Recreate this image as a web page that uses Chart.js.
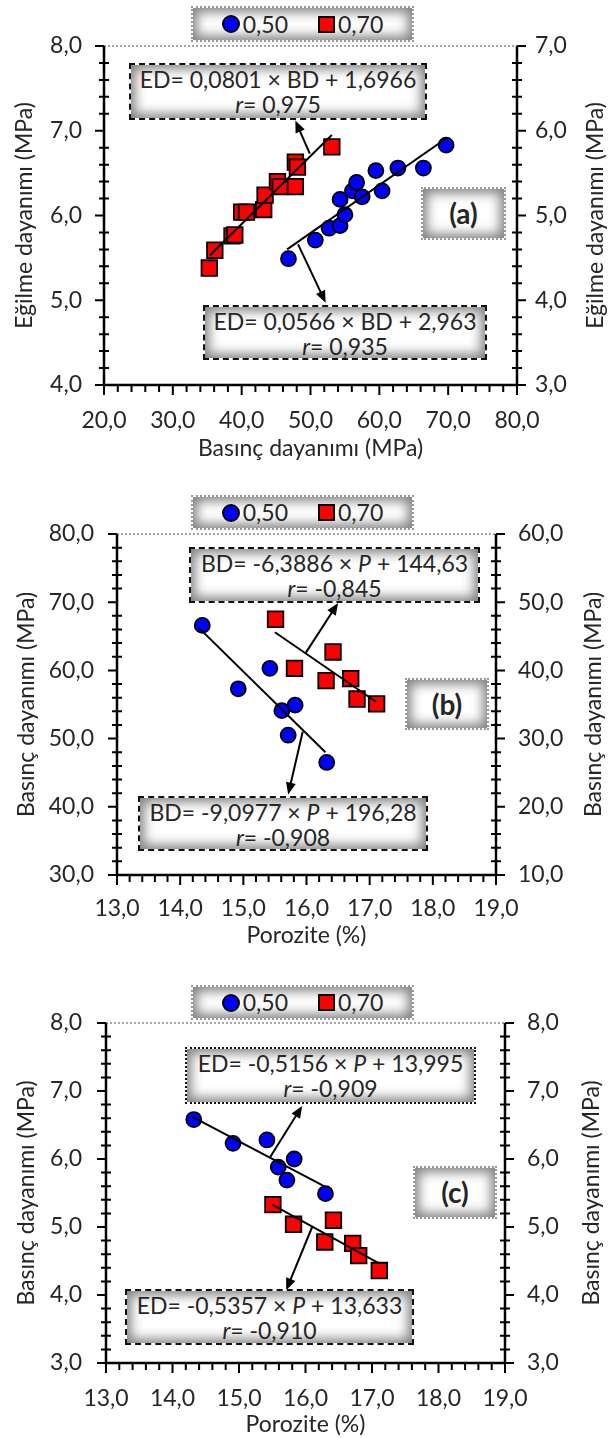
<!DOCTYPE html>
<html>
<head>
<meta charset="utf-8">
<script src="https://cdn.jsdelivr.net/npm/chart.js@4.4.1/dist/chart.umd.min.js"></script>
<style>
  body { margin: 0; background: #fff; width: 614px; height: 1438px; position: relative; overflow: hidden; font-family: Lato, "Open Sans", sans-serif; color: #262626; }
  canvas { position: absolute; left: 0; }
  .box { position: absolute; box-sizing: border-box; background: #fff; box-shadow: inset 0 0 12px 4px rgba(0,0,0,.5);
         text-align: center; font-size: 23px; line-height: 25px; white-space: nowrap; padding-top: 2px; }
  .dash { border: 2px dashed #111; }
  .dot { border: 2px dotted #999; }
  .dotk { border: 2px dotted #111; }
  .lbl { font-weight: bold; font-size: 28px; line-height: 48px; padding-top: 0; }
  .leg { display: flex; align-items: center; justify-content: center; padding-top: 0; font-size: 23px; }
  .mk { display: inline-block; box-sizing: border-box; border: 2px solid #000; margin-right: 3px; }
  .mk.c { width: 18px; height: 18px; border-radius: 50%; background: #0000ff; }
  .mk.s { width: 17px; height: 17px; background: #ff0000; margin-left: 30px; }
</style>
</head>
<body>
<canvas id="ca" width="614" height="470" style="top:0"></canvas>
<canvas id="cb" width="614" height="490" style="top:470px"></canvas>
<canvas id="cc" width="614" height="478" style="top:960px"></canvas>

<div class="box dot leg" style="left:191px;top:6px;width:223px;height:36px"><span class="mk c"></span>0,50<span class="mk s"></span>0,70</div>
<div class="box dash" style="left:129px;top:63px;width:298px;height:57px">ED= 0,0801 × BD + 1,6966<br><i>r</i>= 0,975</div>
<div class="box dot lbl" style="left:421px;top:187px;width:85px;height:53px">(a)</div>
<div class="box dash" style="left:203px;top:305px;width:284px;height:55px">ED= 0,0566 × BD + 2,963<br><i>r</i>= 0,935</div>

<div class="box dot leg" style="left:191px;top:495px;width:223px;height:35px"><span class="mk c"></span>0,50<span class="mk s"></span>0,70</div>
<div class="box dash" style="left:189px;top:547px;width:291px;height:56px">BD= -6,3886 × <i>P</i> + 144,63<br><i>r</i>= -0,845</div>
<div class="box dot lbl" style="left:405px;top:678px;width:84px;height:52px">(b)</div>
<div class="box dash" style="left:138px;top:796px;width:290px;height:55px">BD= -9,0977 × <i>P</i> + 196,28<br><i>r</i>= -0,908</div>

<div class="box dot leg" style="left:191px;top:985px;width:223px;height:35px"><span class="mk c"></span>0,50<span class="mk s"></span>0,70</div>
<div class="box dotk" style="left:185px;top:1047px;width:291px;height:57px">ED= -0,5156 × <i>P</i> + 13,995<br><i>r</i>= -0,909</div>
<div class="box dot lbl" style="left:413px;top:1166px;width:84px;height:53px">(c)</div>
<div class="box dash" style="left:125px;top:1289px;width:289px;height:56px">ED= -0,5357 × <i>P</i> + 13,633<br><i>r</i>= -0,910</div>

<script>
// (a) basınç vs eğilme dayanımı
const aBd50 = [46.8, 50.7, 52.7, 54.3, 55.0, 54.3, 56.1, 56.7, 57.5, 59.5, 60.4, 62.7, 66.4, 69.7];
const aEd50 = [5.49, 5.71, 5.85, 5.88, 6.01, 6.19, 6.29, 6.39, 6.22, 6.53, 6.29, 6.56, 6.56, 6.83];
const aBd70 = [35.3, 36.1, 38.6, 39.0, 40.0, 40.7, 43.2, 43.4, 45.2, 45.6, 47.8, 47.8, 48.1, 53.1];
const aEd70 = [4.38, 4.59, 4.76, 4.77, 5.04, 5.04, 5.07, 5.24, 5.40, 5.34, 5.34, 5.63, 5.57, 5.81];
const aFit50Bd = [46.6, 69.9], aFit50Ed = [5.60, 6.92];
const aFit70Bd = [35.4, 53.1], aFit70Ed = [4.53, 5.95];

// (b) porozite vs basınç dayanımı
const bP50 = [14.35, 15.42, 14.92, 15.61, 15.82, 15.71, 16.32];
const bBd50 = [66.6, 60.3, 57.3, 54.1, 54.9, 50.5, 46.5];
const bP70 = [15.51, 15.81, 16.42, 16.31, 16.70, 16.80, 17.11];
const bBd70 = [47.5, 40.3, 42.7, 38.5, 38.8, 35.8, 35.1];
const bFit50P = [14.3, 16.3], bFit50Bd = [66.2, 48.0];
const bFit70P = [15.5, 17.1], bFit70Bd = [45.6, 35.4];

// (c) porozite vs eğilme dayanımı
const cP50 = [14.32, 14.91, 15.42, 15.83, 15.59, 15.72, 16.30];
const cEd50 = [6.58, 6.23, 6.28, 6.00, 5.88, 5.69, 5.49];
const cP70 = [15.51, 15.82, 16.42, 16.29, 16.71, 16.80, 17.11];
const cEd70 = [5.33, 5.04, 5.10, 4.78, 4.76, 4.58, 4.36];
const cFit50P = [14.3, 16.3], cFit50Ed = [6.62, 5.59];
const cFit70P = [15.5, 17.1], cFit70Ed = [5.33, 4.47];

const FONT = 'Lato, "Open Sans", sans-serif';
const INK = '#262626';
const fmt1 = (v) => v.toFixed(1).replace('.', ',');
const pts = (xs, ys) => xs.map((v, i) => ({ x: v, y: ys[i] }));

function arrow(ctx, x1, y1, x2, y2) {
  const ang = Math.atan2(y2 - y1, x2 - x1), L = 12, W = 5;
  ctx.beginPath();
  ctx.moveTo(x1, y1);
  ctx.lineTo(x2 - Math.cos(ang) * L * 0.7, y2 - Math.sin(ang) * L * 0.7);
  ctx.stroke();
  ctx.beginPath();
  ctx.moveTo(x2, y2);
  ctx.lineTo(x2 - L * Math.cos(ang) + W * Math.sin(ang), y2 - L * Math.sin(ang) - W * Math.cos(ang));
  ctx.lineTo(x2 - L * Math.cos(ang) - W * Math.sin(ang), y2 - L * Math.sin(ang) + W * Math.cos(ang));
  ctx.closePath();
  ctx.fill();
}

// axes, minor ticks, right title and arrows
const decor = {
  id: 'decor',
  afterDatasetsDraw(chart, args, o) {
    const { ctx, chartArea: a, scales } = chart;
    const sx = scales.x, sy = scales.y;
    ctx.save();
    ctx.strokeStyle = '#a6a6a6';
    ctx.lineWidth = 2;
    ctx.setLineDash([2, 2]);
    ctx.beginPath(); ctx.moveTo(a.left, a.top); ctx.lineTo(a.right, a.top); ctx.stroke();
    ctx.setLineDash([]);

    ctx.strokeStyle = '#000';
    ctx.lineWidth = 2.5;
    ctx.beginPath();
    ctx.moveTo(a.left, a.top); ctx.lineTo(a.left, a.bottom + 1);
    ctx.moveTo(a.left - 1, a.bottom); ctx.lineTo(a.right + 1, a.bottom);
    ctx.moveTo(a.right, a.bottom + 1); ctx.lineTo(a.right, a.top);
    ctx.stroke();

    ctx.lineWidth = 2;
    const n = Math.round((sx.max - sx.min) / o.minorX), kx = Math.round(o.majorX / o.minorX);
    ctx.beginPath();
    for (let i = 0; i <= n; i++) {
      const px = sx.getPixelForValue(sx.min + i * o.minorX);
      ctx.moveTo(px, a.bottom);
      ctx.lineTo(px, a.bottom + (i % kx === 0 ? 10 : 7));
    }
    const m = Math.round((sy.max - sy.min) / o.minorY), ky = Math.round(o.majorY / o.minorY);
    for (let i = 0; i <= m; i++) {
      const py = sy.getPixelForValue(sy.min + i * o.minorY);
      if (i % ky === 0) {
        ctx.moveTo(a.left - 9, py); ctx.lineTo(a.left, py);
        ctx.moveTo(a.right, py); ctx.lineTo(a.right + 9, py);
      } else {
        ctx.moveTo(a.left - 5, py); ctx.lineTo(a.left + 5, py);
        ctx.moveTo(a.right - 5, py); ctx.lineTo(a.right + 5, py);
      }
    }
    ctx.stroke();

    ctx.fillStyle = '#000';
    ctx.lineWidth = 2;
    o.arrows.forEach((r) => {
      arrow(ctx, sx.getPixelForValue(r[0]), sy.getPixelForValue(r[1]),
                 sx.getPixelForValue(r[2]), sy.getPixelForValue(r[3]));
    });

    ctx.translate(o.rightTitleX, (a.top + a.bottom) / 2);
    ctx.rotate(-Math.PI / 2);
    ctx.fillStyle = INK;
    ctx.font = '23px ' + FONT;
    ctx.textAlign = 'center';
    ctx.textBaseline = 'middle';
    ctx.fillText(o.rightTitle, 0, 0);
    ctx.restore();
  }
};

function panel(p) {
  const cv = document.getElementById(p.id);
  const W = cv.width, H = cv.height;
  const tickFont = { family: FONT, size: 23 };
  new Chart(cv, {
    type: 'scatter',
    data: {
      datasets: [
        { data: pts(p.fit50x, p.fit50y), yAxisID: p.axis50, showLine: true, pointRadius: 0, borderColor: '#000', borderWidth: 2, order: 0 },
        { data: pts(p.fit70x, p.fit70y), yAxisID: p.axis70, showLine: true, pointRadius: 0, borderColor: '#000', borderWidth: 2, order: 0 },
        { data: pts(p.x50, p.y50), yAxisID: p.axis50, pointStyle: 'circle', pointRadius: 7.5, backgroundColor: '#0000ff', borderColor: '#000', borderWidth: 1.8, order: 1 },
        { data: pts(p.x70, p.y70), yAxisID: p.axis70, pointStyle: 'rect', pointRadius: 11, backgroundColor: '#ff0000', borderColor: '#000', borderWidth: 1.8, order: 1 }
      ]
    },
    options: {
      responsive: false, animation: false, events: [],
      layout: { padding: { top: p.area.t, left: 0, right: 0, bottom: 0 } },
      plugins: {
        legend: { display: false }, tooltip: { enabled: false },
        decor: { minorX: p.minorX, majorX: p.stepX, minorY: p.minorY, majorY: p.stepY, arrows: p.arrows, rightTitle: p.yTitle, rightTitleX: p.rightTitleX }
      },
      scales: {
        x: {
          type: 'linear', min: p.xMin, max: p.xMax,
          afterFit: (s) => { s.height = H - p.area.b; },
          ticks: { stepSize: p.stepX, padding: p.xPad, font: tickFont, color: INK, maxRotation: 0, autoSkip: false, callback: fmt1 },
          grid: { display: false, drawTicks: false }, border: { display: false },
          title: { display: true, text: p.xTitle, font: tickFont, color: INK, padding: { top: 0, bottom: p.xTitlePad } }
        },
        y: {
          type: 'linear', position: 'left', min: p.yMin, max: p.yMax,
          afterFit: (s) => { s.width = p.area.l; },
          ticks: { stepSize: p.stepY, padding: p.yPad, font: tickFont, color: INK, callback: fmt1 },
          grid: { display: false, drawTicks: false }, border: { display: false },
          title: { display: true, text: p.yTitle, font: tickFont, color: INK, padding: { top: p.yTitlePad, bottom: 0 } }
        },
        y2: {
          type: 'linear', position: 'right', min: p.y2Min, max: p.y2Max,
          afterFit: (s) => { s.width = W - p.area.r; },
          ticks: { stepSize: p.stepY, padding: p.y2Pad, font: tickFont, color: INK, callback: fmt1 },
          grid: { display: false, drawTicks: false }, border: { display: false }
        }
      }
    },
    plugins: [decor]
  });
}

panel({
  id: 'ca', area: { l: 104, r: 517, t: 46, b: 385 },
  xMin: 20, xMax: 80, stepX: 10, minorX: 2, yMin: 4, yMax: 8, y2Min: 3, y2Max: 7, stepY: 1, minorY: 0.2,
  x50: aBd50, y50: aEd50, x70: aBd70, y70: aEd70, axis50: 'y', axis70: 'y2',
  fit50x: aFit50Bd, fit50y: aFit50Ed, fit70x: aFit70Bd, fit70y: aFit70Ed,
  xTitle: 'Basınç dayanımı (MPa)', yTitle: 'Eğilme dayanımı (MPa)',
  xPad: 22, xTitlePad: 8, yPad: 22, y2Pad: 18, yTitlePad: 11, rightTitleX: 596,
  arrows: [[49.9, 6.73, 47.8, 7.12], [48.2, 5.66, 52.2, 4.97]]
});

panel({
  id: 'cb', area: { l: 117, r: 496, t: 64, b: 405 },
  xMin: 13, xMax: 19, stepX: 1, minorX: 0.2, yMin: 30, yMax: 80, y2Min: 10, y2Max: 60, stepY: 10, minorY: 2,
  x50: bP50, y50: bBd50, x70: bP70, y70: bBd70, axis50: 'y', axis70: 'y2',
  fit50x: bFit50P, fit50y: bFit50Bd, fit70x: bFit70P, fit70y: bFit70Bd,
  xTitle: 'Porozite (%)', yTitle: 'Basınç dayanımı (MPa)',
  xPad: 20, xTitlePad: 11, yPad: 23, y2Pad: 22, yTitlePad: 13, rightTitleX: 594,
  arrows: [[15.99, 62.6, 16.5, 69.9], [15.94, 51.0, 15.71, 41.8]]
});

panel({
  id: 'cc', area: { l: 106, r: 505, t: 63, b: 403 },
  xMin: 13, xMax: 19, stepX: 1, minorX: 0.2, yMin: 3, yMax: 8, y2Min: 3, y2Max: 8, stepY: 1, minorY: 0.2,
  x50: cP50, y50: cEd50, x70: cP70, y70: cEd70, axis50: 'y', axis70: 'y',
  fit50x: cFit50P, fit50y: cFit50Ed, fit70x: cFit70P, fit70y: cFit70Ed,
  xTitle: 'Porozite (%)', yTitle: 'Basınç dayanımı (MPa)',
  xPad: 22, xTitlePad: 0, yPad: 24, y2Pad: 22, yTitlePad: 13, rightTitleX: 592,
  arrows: [[15.47, 6.03, 15.95, 6.78], [16.1, 5.0, 15.71, 4.07]]
});
</script>
</body>
</html>
